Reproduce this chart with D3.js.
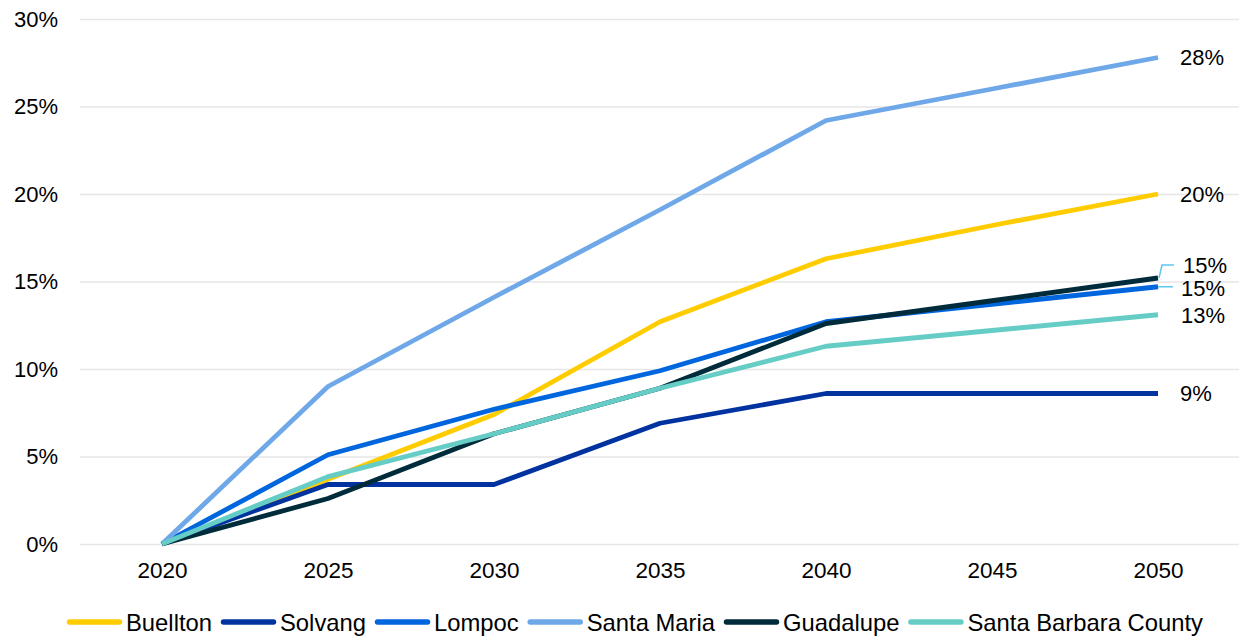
<!DOCTYPE html>
<html><head><meta charset="utf-8">
<script src="https://cdn.jsdelivr.net/npm/d3@7"></script>
<style>body{margin:0;background:#fff}svg{display:block}text{font-family:"Liberation Sans",Arial,sans-serif;fill:#000}</style>
</head><body>
<svg id="c" width="1239" height="639"></svg>
<script>
const years = ["2020","2025","2030","2035","2040","2045","2050"];
const yTicks = [0, 0.05, 0.10, 0.15, 0.20, 0.25, 0.30];
const seriesNames = ["Buellton","Solvang","Lompoc","Santa Maria","Guadalupe","Santa Barbara County"];
const colors = ["#FFCC00","#0033A0","#0066DD","#6FA8E8","#002B3A","#66CCC6"];
const buellton   = [0, 0.037, 0.074, 0.127, 0.163, 0.182, 0.200];
const solvang    = [0, 0.034, 0.034, 0.069, 0.086, 0.086, 0.086];
const lompoc     = [0, 0.051, 0.077, 0.099, 0.127, 0.137, 0.147];
const santaMaria = [0, 0.090, 0.141, 0.191, 0.242, 0.260, 0.278];
const guadalupe  = [0, 0.026, 0.063, 0.089, 0.126, 0.139, 0.152];
const sbCounty   = [0, 0.0385, 0.063, 0.089, 0.113, 0.122, 0.131];
const endLabels  = ["20%","9%","15%","28%","15%","13%"];
const allValues = [buellton, solvang, lompoc, santaMaria, guadalupe, sbCounty];

const svg = d3.select("#c");
const x = d3.scalePoint().domain(years).range([79, 1241]).padding(0.5);
const y = d3.scaleLinear().domain([0, 0.30]).range([544, 19]);

// gridlines
const yAxis = d3.axisLeft(y).tickValues(yTicks).tickFormat(d3.format(".0%")).tickSize(-(1239-80)).tickPadding(22);
const gy = svg.append("g").attr("transform","translate(80,0)").call(yAxis);
gy.select(".domain").remove();
gy.selectAll(".tick line").attr("stroke","#e6e6e6").attr("stroke-width",1.5);
gy.selectAll(".tick text").attr("font-size","22px").attr("fill","#1a1a1a");

const xAxis = d3.axisBottom(x).tickSize(0).tickPadding(18);
const gx = svg.append("g").attr("transform","translate(0,544)").call(xAxis);
gx.select(".domain").remove();
gx.selectAll(".tick text").attr("font-size","22.5px").attr("fill","#1a1a1a");

const line = d3.line().x((d,i)=>x(years[i])).y(d=>y(d));
allValues.forEach((vals,k)=>{
  svg.append("path").attr("d", line(vals)).attr("fill","none")
    .attr("stroke", colors[k]).attr("stroke-width",4.8).attr("stroke-linejoin","round");
});

// end labels
const lastX = x(years[years.length-1]);
const labelY = [y(buellton[6]), y(solvang[6]), y(lompoc[6])+1, y(santaMaria[6]), y(guadalupe[6])-13, y(sbCounty[6])];
const labelX = [1180,1180,1181,1180,1183,1181];
endLabels.forEach((t,k)=>{
  svg.append("text").attr("x",labelX[k]).attr("y",labelY[k]).attr("dy","0.36em")
    .attr("font-size","22px").text(t);
});
// leader lines
const lc = "#5BC8F0";
svg.append("path").attr("fill","none").attr("stroke",lc).attr("stroke-width",1.5)
  .attr("d", d3.line()([[lastX+1, y(guadalupe[6])], [lastX+4, y(guadalupe[6])-13], [lastX+16, y(guadalupe[6])-13]]));
svg.append("path").attr("fill","none").attr("stroke",lc).attr("stroke-width",1.5)
  .attr("d", d3.line()([[lastX, y(lompoc[6])], [lastX+15, y(lompoc[6])]]));

// legend
const lg = svg.append("g");
let cx = 67;
const ly = 622;
seriesNames.forEach((n,k)=>{
  lg.append("line").attr("x1",cx+2.5).attr("x2",cx+52.5).attr("y1",ly).attr("y2",ly)
    .attr("stroke",colors[k]).attr("stroke-width",5.5).attr("stroke-linecap","round");
  const t = lg.append("text").attr("x",cx+59).attr("y",ly).attr("dy","0.36em").attr("font-size","23.8px").text(n);
  cx = cx + 59 + t.node().getComputedTextLength() + 9;
});
</script>
</body></html>
